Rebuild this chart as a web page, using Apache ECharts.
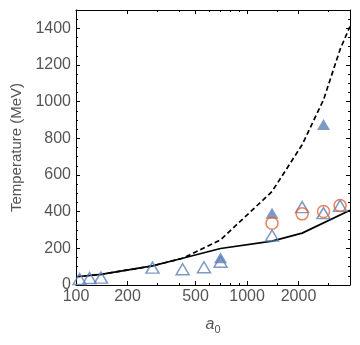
<!DOCTYPE html>
<html>
<head>
<meta charset="utf-8">
<script src="https://cdn.jsdelivr.net/npm/echarts@6/dist/echarts.min.js"></script>
<style>
  html, body { margin: 0; padding: 0; background: #fff; }
</style>
</head>
<body>
<div id="myChart" style="width: 360px; height: 345px"></div>
<script>
// tick positions (a0 on log axis, temperature on linear axis)
const xMajorTicks = [100, 200, 500, 1000, 2000];
const xMinorTicks = [300, 400, 600, 700, 800, 900, 1500, 3000];
const yMajorTicks = [0, 200, 400, 600, 800, 1000, 1200, 1400];
const yMinorTicks = [50, 100, 150, 250, 300, 350, 450, 500, 550, 650, 700, 750, 850, 900, 950,
  1050, 1100, 1150, 1250, 1300, 1350, 1450];

// solid curve
const solidA = [100, 140, 280, 420, 700, 1400, 2100, 4000];
const solidT = [45, 58, 104, 146, 199, 239, 283, 408];

// dashed curve
const dashedA = [100, 140, 280, 420, 700, 1400, 2100, 2800, 3500, 4000];
const dashedT = [45, 58, 104, 146, 246, 510, 765, 1010, 1285, 1410];

// open triangles
const openTriA = [105, 120, 140, 280, 420, 560, 700, 1400, 2100, 2800, 3500];
const openTriT = [33, 38, 40, 95, 86, 97, 127, 270, 425, 392, 432];

// filled triangles
const fillTriA = [700, 1400, 2800];
const fillTriT = [149, 392, 875];

// open circles
const circA = [1400, 2100, 2800, 3500];
const circT = [337, 388, 401, 434];

const X_MIN = 100;
const X_MAX = 4000;
const Y_MIN = 0;
const Y_MAX = 1500;

const lg = (v) => Math.log10(v);
const pts = (a, t) => a.map((v, i) => [lg(v), t[i]]);

const blue = "#5E81B5";
const orange = "#EB6235";
const textColor = "#555";
const font = "'Liberation Sans', Arial, sans-serif";

function xAxisDef(pos, ticks, len, labels, line) {
  return {
    type: "value",
    position: pos,
    min: lg(X_MIN),
    max: lg(X_MAX),
    splitLine: { show: false },
    axisLine: { show: line, onZero: false, lineStyle: { color: "#000", width: 1 } },
    axisTick: {
      show: true,
      inside: true,
      length: len,
      customValues: ticks.map(lg),
      lineStyle: { color: "#000", width: 1 },
    },
    axisLabel: {
      show: labels,
      customValues: ticks.map(lg),
      margin: 4,
      color: textColor,
      fontSize: 16,
      fontFamily: font,
      formatter: (v) => String(Math.round(Math.pow(10, v))),
    },
  };
}

function yAxisDef(pos, ticks, len, labels, line) {
  return {
    type: "value",
    position: pos,
    min: Y_MIN,
    max: Y_MAX,
    splitLine: { show: false },
    axisLine: { show: line, onZero: false, lineStyle: { color: "#000", width: 1 } },
    axisTick: {
      show: true,
      inside: true,
      length: len,
      customValues: ticks,
      lineStyle: { color: "#000", width: 1 },
    },
    axisLabel: {
      show: labels,
      customValues: ticks,
      margin: 5,
      color: textColor,
      fontSize: 16,
      fontFamily: font,
      formatter: (v) => String(v),
    },
  };
}

const xAxes = [
  xAxisDef("bottom", xMajorTicks, 4, true, true),
  xAxisDef("bottom", xMinorTicks, 2, false, false),
  xAxisDef("top", xMajorTicks, 4, false, true),
  xAxisDef("top", xMinorTicks, 2, false, false),
];
xAxes[0].name = "{a|a}{s|0}";
xAxes[0].nameLocation = "middle";
xAxes[0].nameGap = 29;
xAxes[0].nameTextStyle = {
  rich: {
    a: { fontSize: 16, fontStyle: "italic", color: textColor, fontFamily: font },
    s: { fontSize: 11, color: textColor, fontFamily: font, padding: [10, 0, 0, 0] },
  },
};

const yAxes = [
  yAxisDef("left", yMajorTicks, 4, true, true),
  yAxisDef("left", yMinorTicks, 2, false, false),
  yAxisDef("right", yMajorTicks, 4, false, true),
  yAxisDef("right", yMinorTicks, 2, false, false),
];
yAxes[0].name = "Temperature (MeV)";
yAxes[0].nameLocation = "middle";
yAxes[0].nameGap = 48;
yAxes[0].nameTextStyle = { fontSize: 15, color: textColor, fontFamily: font };

let myChart = echarts.init(document.getElementById("myChart"));
myChart.setOption({
  animation: false,
  grid: { left: 76, right: 10, top: 10, bottom: 60, containLabel: false },
  xAxis: xAxes,
  yAxis: yAxes,
  series: [
    {
      name: "solid",
      type: "line",
      data: pts(solidA, solidT),
      showSymbol: false,
      lineStyle: { color: "#000", width: 1.7 },
      z: 2,
    },
    {
      name: "dashed",
      type: "line",
      data: pts(dashedA, dashedT),
      showSymbol: false,
      lineStyle: { color: "#000", width: 1.7, type: [5, 3] },
      z: 2,
    },
    {
      name: "open triangles",
      type: "scatter",
      symbol: "triangle",
      symbolSize: [13, 11],
      data: pts(openTriA, openTriT),
      itemStyle: { color: "rgba(0,0,0,0)", borderColor: blue, borderWidth: 1.5 },
      z: 3,
    },
    {
      name: "filled triangles",
      type: "scatter",
      symbol: "triangle",
      symbolSize: [13, 11],
      data: pts(fillTriA, fillTriT),
      itemStyle: { color: blue },
      z: 4,
    },
    {
      name: "open circles",
      type: "scatter",
      symbol: "circle",
      symbolSize: 12,
      data: pts(circA, circT),
      itemStyle: { color: "rgba(0,0,0,0)", borderColor: orange, borderWidth: 1.5 },
      z: 5,
    },
  ],
});
window.addEventListener("resize", () => {
  myChart.resize();
});
</script>
</body>
</html>
